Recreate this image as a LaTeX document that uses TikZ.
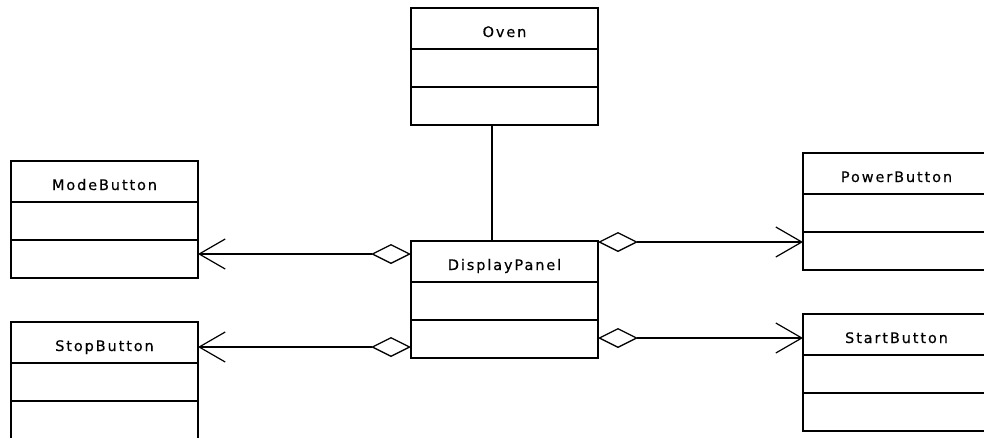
\documentclass[tikz,border=0pt]{standalone}
\usepackage{fontspec}
\setmainfont{DejaVu Sans}[FakeBold=0.4]
\usetikzlibrary{arrows.meta}
\newcommand{\umlbox}[4]{%
  \node[cls] (#1) at (#2,#3) {};
  \node[ttl] (#1-t) at ([yshift=-29pt]#1.north) {#4};
  \draw[sep] ([yshift=-41pt]#1.north west) -- ([yshift=-41pt]#1.north east);
  \draw[sep] ([yshift=-79pt]#1.north west) -- ([yshift=-79pt]#1.north east);
}
\begin{document}
\begin{tikzpicture}[x=1pt,y=-1pt,
  cls/.style={draw, rectangle, line width=1.3pt, minimum width=187pt, minimum height=117pt, anchor=north west, inner sep=0pt, outer sep=0pt},
  ttl/.style={anchor=base, inner sep=0pt, font=\fontsize{14.5}{16}\selectfont\addfontfeature{LetterSpace=13}},
  sep/.style={line width=1.3pt},
  agg/.style={line width=1.3pt, {Diamond[open,length=40pt,width=20pt,line width=1.3pt]}-{Straight Barb[length=26pt,width=30pt,line width=1.2pt]}},
  assoc/.style={line width=1.3pt}]
\useasboundingbox (0,0) rectangle (984,437);
\clip (0,0) rectangle (984,437);
\umlbox{oven}{411}{8}{Oven}
\umlbox{mb}{11}{161}{ModeButton}
\umlbox{sb}{11}{322}{StopButton}
\umlbox{dp}{411}{241}{DisplayPanel}
\umlbox{pb}{803}{153}{PowerButton}
\umlbox{stb}{803}{314}{StartButton}
\draw[assoc] (oven.south -| 492,0) -- (dp.north -| 492,0);
\draw[agg] (dp.west |- 0,254) -- (mb.east |- 0,254);
\draw[agg] (dp.west |- 0,347) -- (sb.east |- 0,347);
\draw[agg] (dp.east |- 0,242) -- (pb.west |- 0,242);
\draw[agg] (dp.east |- 0,338) -- (stb.west |- 0,338);
\end{tikzpicture}
\end{document}
